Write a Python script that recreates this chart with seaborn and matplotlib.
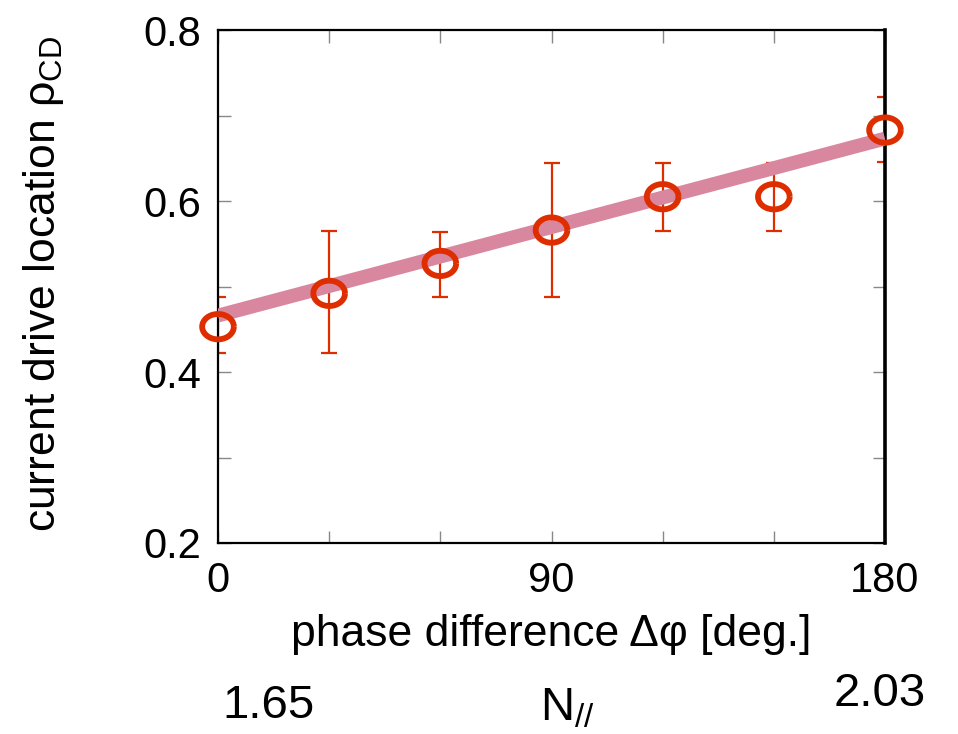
import matplotlib
matplotlib.use("Agg")
import matplotlib.pyplot as plt
import seaborn as sns
import numpy as np
import pandas as pd

# measured data
phase_deg = [0, 30, 60, 90, 120, 150, 180]
rho_cd = [0.453, 0.492, 0.527, 0.566, 0.605, 0.605, 0.683]
rho_lower = [0.422, 0.422, 0.488, 0.488, 0.565, 0.565, 0.646]
rho_upper = [0.488, 0.565, 0.564, 0.644, 0.644, 0.644, 0.722]

# linear trend end points
fit_phase = [0, 180]
fit_rho = [0.466, 0.673]

x_major = [0, 90, 180]
x_minor = [30, 60, 120, 150]
y_major = [0.2, 0.4, 0.6, 0.8]
y_minor = [0.3, 0.5, 0.7]
n_par_low, n_par_high = "1.65", "2.03"

sns.set_theme(style="white")
plt.rcParams["font.family"] = ["Liberation Sans", "DejaVu Sans"]
plt.rcParams["mathtext.fontset"] = "custom"
plt.rcParams["mathtext.rm"] = "Liberation Sans"
plt.rcParams["mathtext.it"] = "Liberation Sans"
plt.rcParams["text.color"] = "black"
plt.rcParams["axes.labelcolor"] = "black"

RED = "#de2e00"
PINK = "#d9869f"

fig = plt.figure(figsize=(9.58, 7.34), dpi=100)
ax = fig.add_axes([218 / 958, 1 - 543 / 734, 667 / 958, 513 / 734])

df = pd.DataFrame({"phase": phase_deg, "rho": rho_cd,
                   "lo": rho_lower, "hi": rho_upper})
fit_df = pd.DataFrame({"phase": fit_phase, "rho": fit_rho})

# error bars
yerr = np.vstack([df["rho"] - df["lo"], df["hi"] - df["rho"]])
ax.errorbar(df["phase"], df["rho"], yerr=yerr, fmt="none", ecolor=RED,
            elinewidth=1.6, capsize=5.5, capthick=1.6, zorder=2)

# trend line
sns.lineplot(data=fit_df, x="phase", y="rho", ax=ax, color=PINK,
             linewidth=10, zorder=3, solid_capstyle="butt")

# open elliptical markers
t = np.linspace(0, 2 * np.pi, 60)
ellipse = list(zip(1.25 * np.cos(t), np.sin(t)))
sns.scatterplot(data=df, x="phase", y="rho", ax=ax, marker=ellipse,
                s=520, facecolors="none", edgecolor=RED, linewidth=4.2,
                zorder=4, clip_on=False)

ax.set_xlim(0, 180)
ax.set_ylim(0.2, 0.8)
ax.set_xticks(x_major)
ax.set_xticks(x_minor, minor=True)
ax.set_yticks(y_major)
ax.set_yticks(y_minor, minor=True)
ax.set_xticklabels([str(v) for v in x_major])
ax.set_yticklabels([f"{v:.1f}" for v in y_major])

ax.tick_params(which="both", direction="in", top=True, right=True,
               bottom=True, left=True, color="#888888", width=1.0,
               length=9, labelcolor="black")
ax.tick_params(axis="x", which="major", pad=13, labelsize=30)
ax.tick_params(axis="y", which="major", pad=12, labelsize=30)

for side in ["left", "bottom", "top"]:
    ax.spines[side].set_color("black")
    ax.spines[side].set_linewidth(1.6)
ax.spines["right"].set_color("black")
ax.spines["right"].set_linewidth(2.6)

ax.set_xlabel("phase difference Δφ [deg.]", fontsize=32, labelpad=9)
ax.set_ylabel(r"current drive location $\rho_{\mathrm{CD}}$", fontsize=32)
ax.yaxis.set_label_coords(-0.228, 0.505)

fig.text(268 / 958, 1 - 706 / 734, n_par_low, fontsize=34,
         ha="center", va="center")
fig.text(567 / 958, 1 - 709 / 734, r"N$_{//}$", fontsize=34,
         ha="center", va="center")
fig.text(880 / 958, 1 - 694 / 734, n_par_high, fontsize=34,
         ha="center", va="center")

fig.savefig("out.png", dpi=100, facecolor="white")
